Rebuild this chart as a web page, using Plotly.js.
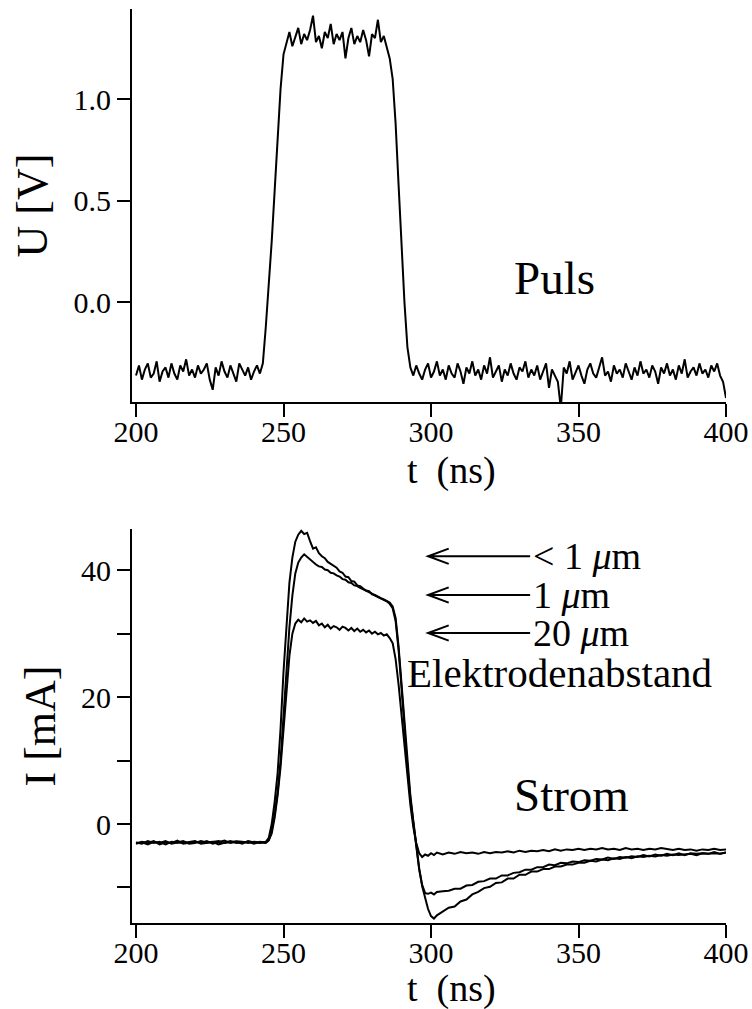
<!DOCTYPE html>
<html>
<head>
<meta charset="utf-8">
<script src="https://cdn.plot.ly/plotly-3.0.1.min.js"></script>
<style>html,body{margin:0;padding:0;background:#fff;}#chart{width:752px;height:1009px;}</style>
</head>
<body>
<div id="chart"></div>
<script>
// ---------- Pulse (top panel): time in ns, voltage in V ----------
const tPulse = [
200,201,202,203,204,205,206,207,208,209,210,211,212,213,214,215,216,217,218,219,
220,221,222,223,224,225,226,227,228,229,230,231,232,233,234,235,236,237,238,239,
240,241,242,243,244,245,246,247,248,249,250,251,252,253,254,255,256,257,258,259,
260,261,262,263,264,265,266,267,268,269,270,271,272,273,274,275,276,277,278,279,
280,281,282,283,284,285,286,287,288,289,290,291,292,293,294,295,296,297,298,299,
300,301,302,303,304,305,306,307,308,309,310,311,312,313,314,315,316,317,318,319,
320,321,322,323,324,325,326,327,328,329,330,331,332,333,334,335,336,337,338,339,
340,341,342,343,344,345,346,347,348,349,350,351,352,353,354,355,356,357,358,359,
360,361,362,363,364,365,366,367,368,369,370,371,372,373,374,375,376,377,378,379,
380,381,382,383,384,385,386,387,388,389,390,391,392,393,394,395,396,397,398,399,
400];
const uPulse = [
-0.36,-0.31,-0.38,-0.33,-0.30,-0.37,-0.35,-0.29,-0.39,-0.34,
-0.32,-0.37,-0.30,-0.35,-0.38,-0.31,-0.34,-0.28,-0.36,-0.33,
-0.37,-0.31,-0.35,-0.33,-0.30,-0.38,-0.43,-0.32,-0.36,-0.29,
-0.34,-0.37,-0.31,-0.35,-0.39,-0.30,-0.33,-0.36,-0.32,-0.38,
-0.34,-0.31,-0.35,
-0.30,-0.12,0.08,0.30,0.55,0.80,1.05,1.22,
1.28,1.33,1.26,1.31,1.35,1.27,1.32,1.29,1.34,1.41,
1.28,1.31,1.25,1.33,1.30,1.37,1.27,1.32,1.29,1.33,
1.20,1.30,1.35,1.27,1.31,1.28,1.34,1.29,1.21,1.32,
1.30,1.39,1.28,1.31,1.26,
1.20,1.10,0.88,0.58,0.28,0.00,-0.22,-0.32,
-0.36,-0.31,-0.35,-0.38,-0.33,-0.30,-0.37,-0.34,-0.29,-0.36,
-0.33,-0.38,-0.31,-0.35,-0.37,-0.30,-0.34,-0.40,-0.32,-0.35,
-0.29,-0.36,-0.33,-0.38,-0.31,-0.35,-0.27,-0.37,-0.34,-0.31,
-0.39,-0.33,-0.36,-0.30,-0.35,-0.38,-0.32,-0.34,-0.29,-0.37,
-0.33,-0.36,-0.31,-0.38,-0.34,-0.30,-0.42,-0.33,-0.36,-0.39,
-0.52,-0.32,-0.35,-0.29,-0.38,-0.34,-0.31,-0.36,-0.40,-0.33,
-0.30,-0.35,-0.37,-0.32,-0.27,-0.36,-0.34,-0.39,-0.31,-0.35,
-0.33,-0.37,-0.30,-0.34,-0.38,-0.32,-0.36,-0.29,-0.35,-0.33,
-0.37,-0.31,-0.34,-0.40,-0.32,-0.35,-0.30,-0.36,-0.33,-0.38,
-0.31,-0.35,-0.28,-0.37,-0.34,-0.32,-0.36,-0.30,-0.35,-0.33,
-0.37,-0.31,-0.34,-0.30,-0.36,-0.39,-0.47];

// ---------- Current (bottom panel): time in ns, current in mA ----------
const tCurrent = [
200,202,204,206,208,210,212,214,216,218,220,222,224,226,228,230,232,234,236,238,240,242,244,
245,246,247,248,249,250,251,252,253,254,255,256,257,258,259,260,261,262,263,264,265,266,267,268,269,
270,271,272,273,274,275,276,277,278,279,280,281,282,283,284,285,286,287,288,289,290,291,292,293,294,
295,296,297,298,299,300,301,302,
304,306,308,310,312,314,316,318,320,322,324,326,328,330,332,334,336,338,340,342,344,346,348,350,
352,354,356,358,360,362,364,366,368,370,372,374,376,378,380,382,384,386,388,390,392,394,396,398,400];

const iSub1um = [
-3.1,-2.8,-3.0,-2.7,-3.2,-2.9,-3.0,-2.6,-3.1,-2.9,-2.8,-3.0,-2.7,-3.1,-2.9,-2.6,-3.0,-2.8,-3.1,-2.7,-2.9,-3.0,-2.8,
-2.2,0.0,3.5,8.0,15.0,24.0,32.0,38.0,42.0,44.5,45.6,46.2,45.7,45.9,44.6,43.4,43.6,42.7,42.2,41.9,41.3,41.0,40.6,40.4,39.8,
39.6,39.0,38.9,38.3,38.2,37.6,37.5,37.1,36.8,36.7,36.2,36.1,35.8,35.6,35.4,35.1,34.9,34.3,32.5,28.0,22.0,15.5,9.5,4.5,0.5,
-3.5,-7.0,-9.8,-11.8,-13.4,-14.5,-14.9,-14.4,
-13.8,-13.2,-13.0,-12.2,-11.9,-11.1,-10.7,-10.1,-9.9,-9.3,-9.2,-8.6,-8.6,-8.0,-8.0,-7.5,-7.5,-7.1,-7.1,-6.7,-6.7,-6.4,-6.4,-6.1,
-6.1,-5.8,-5.9,-5.6,-5.7,-5.4,-5.5,-5.2,-5.4,-5.1,-5.2,-5.0,-5.1,-4.9,-5.0,-4.8,-4.9,-4.8,-4.7,-4.9,-4.6,-4.7,-4.6,-4.7,-4.5];

const i1um = [
-2.9,-3.1,-2.7,-3.0,-2.8,-3.2,-2.8,-2.9,-2.7,-3.1,-3.0,-2.7,-2.9,-2.8,-3.2,-2.9,-2.7,-3.0,-2.9,-2.8,-3.1,-2.8,-2.9,
-2.5,-1.0,1.5,5.0,10.0,17.0,24.0,31.0,36.0,39.5,41.2,42.0,42.5,42.1,41.6,41.2,40.9,40.6,40.5,40.1,40.0,39.6,39.5,39.2,39.0,
38.6,38.5,38.1,38.0,37.6,37.5,37.2,37.0,36.7,36.5,36.3,36.0,35.8,35.6,35.3,35.1,34.7,34.0,32.0,27.5,21.5,15.0,9.0,4.0,0.0,
-3.8,-7.2,-9.6,-10.9,-11.0,-10.8,-11.1,-10.7,
-10.6,-10.5,-10.2,-10.2,-9.7,-9.6,-9.1,-9.0,-8.6,-8.6,-8.1,-8.1,-7.7,-7.6,-7.2,-7.2,-6.8,-6.8,-6.4,-6.5,-6.1,-6.2,-5.9,-6.0,
-5.7,-5.8,-5.5,-5.6,-5.3,-5.5,-5.2,-5.3,-5.1,-5.2,-4.9,-5.1,-4.8,-5.0,-4.7,-4.9,-4.6,-4.9,-4.6,-4.7,-4.6,-4.7,-4.4,-4.7,-4.5];

const i20um = [
-3.0,-2.9,-3.2,-2.8,-3.0,-2.7,-3.1,-2.9,-3.0,-2.8,-2.7,-3.1,-3.0,-2.9,-2.7,-3.0,-2.9,-2.7,-2.8,-3.0,-2.8,-2.9,-3.0,
-2.6,-1.5,1.0,4.5,9.0,15.0,21.0,26.5,30.0,31.6,32.2,31.8,32.4,31.9,32.1,31.7,32.0,31.3,31.6,31.0,31.4,30.8,31.2,31.0,30.6,
31.1,30.9,30.5,30.9,30.4,30.8,30.3,30.6,30.2,30.5,30.0,30.3,29.9,30.1,29.7,29.9,29.3,28.5,26.0,22.0,17.0,12.0,7.0,3.0,-0.5,
-3.0,-4.6,-5.2,-4.8,-5.0,-4.6,-4.9,-4.5,
-4.8,-4.5,-4.7,-4.4,-4.6,-4.5,-4.7,-4.4,-4.6,-4.4,-4.5,-4.3,-4.5,-4.2,-4.4,-4.2,-4.3,-4.1,-4.3,-4.0,-4.2,-4.0,-4.1,-3.9,
-4.1,-3.9,-4.0,-3.8,-4.0,-3.9,-4.1,-3.8,-4.0,-3.9,-4.1,-3.9,-4.0,-3.8,-4.0,-4.1,-3.9,-4.1,-4.0,-4.2,-4.0,-4.1,-3.9,-4.1,-4.0];

// ---------- Labels ----------
const xTickVals = [200, 250, 300, 350, 400];
const uTickVals = [0, 0.5, 1.0];
const uTickText = ["0.0", "0.5", "1.0"];
const iTickVals = [0, 20, 40];
const iTickText = ["0", "20", "40"];
const iMinorTicks = [-10, 10, 30];
const xTitle = "t\u00a0\u00a0(ns)";
const uTitle = "U [V]";
const iTitle = "I [mA]";
const seriesNames = ["< 1 μm", "1 μm", "20 μm"];
const seriesLabels = ["&lt; 1 <i>μ</i>m", "1 <i>μ</i>m", "20 <i>μ</i>m"];
const labelLevels = [42.2, 36.1, 30.1];   // mA level each arrow points at

const FONT = "Liberation Serif";
function f(size) { return {family: FONT, size: size, color: "#000"}; }

const traces = [
  {x: tPulse, y: uPulse, type: "scatter", mode: "lines", name: "Puls",
   line: {color: "#000", width: 2}, xaxis: "x", yaxis: "y"},
  {x: tCurrent, y: iSub1um, type: "scatter", mode: "lines", name: seriesNames[0],
   line: {color: "#000", width: 2}, xaxis: "x2", yaxis: "y2"},
  {x: tCurrent, y: i1um, type: "scatter", mode: "lines", name: seriesNames[1],
   line: {color: "#000", width: 2}, xaxis: "x2", yaxis: "y2"},
  {x: tCurrent, y: i20um, type: "scatter", mode: "lines", name: seriesNames[2],
   line: {color: "#000", width: 2}, xaxis: "x2", yaxis: "y2"}
];

function xAxis(anchor) {
  return {
    anchor: anchor, domain: [0, 1], range: [198.64, 400],
    tickmode: "array", tickvals: xTickVals,
    ticks: "outside", ticklen: 13, tickwidth: 2, tickcolor: "#000",
    ticklabelstandoff: -11,
    showline: true, linecolor: "#000", linewidth: 2, mirror: false,
    showgrid: false, zeroline: false, tickfont: f(30)
  };
}
function yAxis(anchor, domain, range, vals, text, title) {
  return {
    anchor: anchor, domain: domain, range: range,
    tickmode: "array", tickvals: vals, ticktext: text,
    ticks: "outside", ticklen: 13, tickwidth: 2, tickcolor: "#000",
    ticklabelstandoff: 0,
    showline: true, linecolor: "#000", linewidth: 2, mirror: false,
    showgrid: false, zeroline: false, tickfont: f(30),
    title: {text: title, font: f(44), standoff: 12}
  };
}

const yCur = yAxis("x2", [0, 0.4311], [-15.6, 46.5], iTickVals, iTickText, iTitle);
yCur.minor = {tickmode: "array", tickvals: iMinorTicks, ticks: "outside", ticklen: 13, tickwidth: 2, tickcolor: "#000", showgrid: false};

// arrows pointing at the three current curves (lower panel data space)
const arrowTip = 299, arrowTail = 333.6, barbDx = 7, barbDy = 1.2;
const shapes = labelLevels.map(v => ({
  type: "path", xref: "x2", yref: "y2",
  path: `M ${arrowTail} ${v} L ${arrowTip} ${v} M ${arrowTip + barbDx} ${v + barbDy} L ${arrowTip} ${v} L ${arrowTip + barbDx} ${v - barbDy}`,
  line: {color: "#000", width: 2}
}));

const annotations = [
  {text: xTitle, x: 0.5387, y: 0.4956, xref: "paper", yref: "paper", xanchor: "center", yanchor: "middle",
   showarrow: false, font: f(38)},
  {text: xTitle, x: 0.5387, y: -0.0722, xref: "paper", yref: "paper", xanchor: "center", yanchor: "middle",
   showarrow: false, font: f(38)},
  {text: "Puls", x: 342, y: 0.118, xref: "x", yref: "y", showarrow: false, font: f(47)},
  {text: "Strom", x: 347.5, y: 4.6, xref: "x2", yref: "y2", showarrow: false, font: f(47)},
  {text: "Elektrodenabstand", x: 291.2, y: 23.8, xref: "x2", yref: "y2", xanchor: "left",
   yanchor: "middle", showarrow: false, font: f(41)}
].concat(labelLevels.map((v, k) => ({
  text: seriesLabels[k], x: arrowTail + 0.2, y: v, xref: "x2", yref: "y2",
  xanchor: "left", yanchor: "middle", showarrow: false, font: f(38)
})));

const layout = {
  width: 752, height: 1009,
  margin: {l: 132, r: 26, t: 9, b: 86, pad: 0},
  paper_bgcolor: "#fff", plot_bgcolor: "#fff",
  showlegend: false,
  font: f(30),
  xaxis: xAxis("y"),
  yaxis: yAxis("x", [0.570, 1], [-0.49, 1.443], uTickVals, uTickText, uTitle),
  xaxis2: xAxis("y2"),
  yaxis2: yCur,
  shapes: shapes,
  annotations: annotations
};

Plotly.newPlot("chart", traces, layout, {staticPlot: true, displayModeBar: false});
</script>
</body>
</html>
